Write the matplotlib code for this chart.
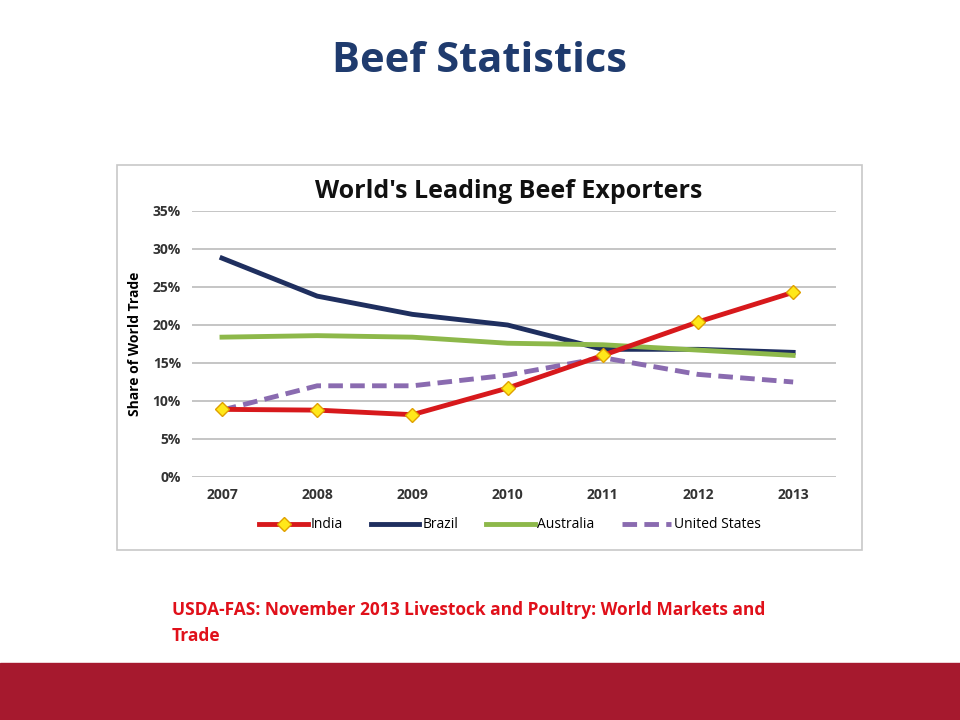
import matplotlib.pyplot as plt
from matplotlib.patches import Rectangle

years = ["2007", "2008", "2009", "2010", "2011", "2012", "2013"]
india = [8.9, 8.8, 8.2, 11.7, 16.0, 20.4, 24.3]
brazil = [28.8, 23.8, 21.4, 20.0, 16.8, 16.8, 16.4]
australia = [18.4, 18.6, 18.4, 17.6, 17.4, 16.7, 16.0]
united_states = [8.8, 12.0, 12.0, 13.4, 15.7, 13.5, 12.5]
y_ticks = [0, 5, 10, 15, 20, 25, 30, 35]

plt.rcParams['font.family'] = ['Open Sans', 'DejaVu Sans']

W, H = 960, 720
fig = plt.figure(figsize=(9.6, 7.2), dpi=100)

# slide title
fig.text(480 / W, 1 - 62 / H, "Beef Statistics", ha='center', va='center',
         fontsize=30, fontweight='bold', color='#1F3B6E')

# chart frame
fig.patches.append(Rectangle((117 / W, 1 - 550 / H), 745 / W, 385 / H,
                             transform=fig.transFigure, fill=False,
                             edgecolor='#C8C8C8', lw=1.2))
fig.text(509 / W, 1 - 191 / H, "World's Leading Beef Exporters", ha='center',
         va='center', fontsize=18, fontweight='bold', color='#111111')

ax = fig.add_axes([192 / W, 1 - 477 / H, 644 / W, 266 / H])
x = range(len(years))
ax.plot(x, india, color='#D7191C', lw=3.5, marker='D', markersize=7,
        markerfacecolor='#FFE81A', markeredgecolor='#E0A000', label='India', zorder=5)
ax.plot(x, brazil, color='#1F2F5F', lw=3.5, label='Brazil')
ax.plot(x, australia, color='#8DB84A', lw=3.5, label='Australia')
ax.plot(x, united_states, color='#8A6BB0', lw=3.5, ls=(0, (3, 1.5)),
        label='United States')

ax.set_xlim(-0.315, 6.45)
ax.set_ylim(0, 35)
ax.set_yticks(y_ticks)
ax.set_yticklabels([f"{v}%" for v in y_ticks])
ax.set_xticks(list(x))
ax.set_xticklabels(years)
ax.tick_params(length=0, labelsize=10, pad=8)
for lab in ax.get_xticklabels() + ax.get_yticklabels():
    lab.set_fontweight('bold')
    lab.set_color('#333333')
ax.grid(axis='y', color='#BBBBBB', lw=1.2)
ax.set_axisbelow(True)
for s in ax.spines.values():
    s.set_visible(False)
ax.set_ylabel("Share of World Trade", fontsize=10, fontweight='bold', labelpad=8)

fig.legend(loc='center', bbox_to_anchor=(510 / W, 1 - 525 / H), ncol=4,
           frameon=False, fontsize=10, handlelength=3.5, columnspacing=2.0,
           handletextpad=0.2)

fig.text(172 / W, 1 - 610 / H,
         "USDA-FAS: November 2013 Livestock and Poultry: World Markets and",
         fontsize=12.5, fontweight='bold', color='#E0101A', va='center')
fig.text(172 / W, 1 - 636 / H, "Trade", fontsize=12.5, fontweight='bold',
         color='#E0101A', va='center')

fig.patches.append(Rectangle((0, 0), 1, 57 / H, transform=fig.transFigure,
                             color='#A6192E'))

fig.savefig("out.png", dpi=100)
